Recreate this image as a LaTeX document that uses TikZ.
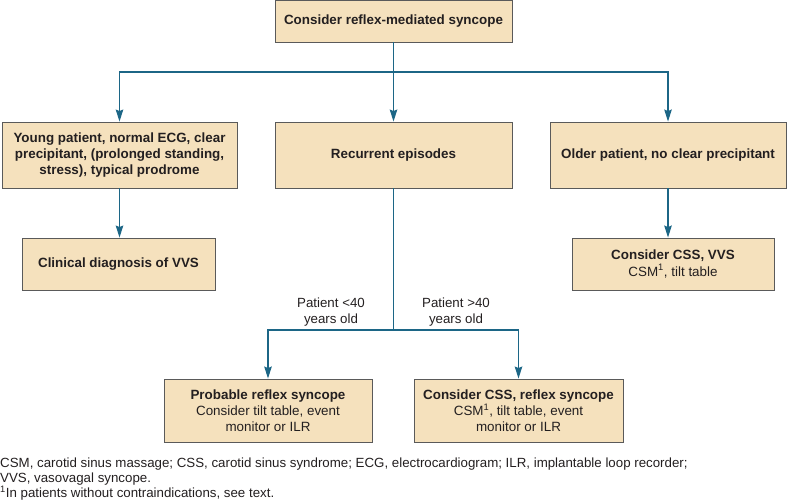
\documentclass[tikz,border=0pt]{standalone}
\usepackage{fontspec}
\setmainfont{Liberation Sans}
\usepackage{tikz}
\usetikzlibrary{arrows.meta}

\definecolor{boxfill}{HTML}{F5E1BD}
\definecolor{boxline}{HTML}{5A5A5A}
\definecolor{flow}{HTML}{1C6686}
\definecolor{ink}{HTML}{231F20}

\tikzset{
  box/.style={draw=boxline, line width=0.9pt, fill=boxfill, inner sep=0pt,
    align=center, text=ink, font=\fontsize{13.4}{16.2}\selectfont\bfseries},
  flowline/.style={draw=flow, line width=1.1pt},
  flowarrow/.style={flowline, -{Stealth[length=12pt,width=7.5pt,inset=1.5pt]}},
  plain/.style={text=ink, align=center, inner sep=0pt, font=\fontsize{13.3}{16}\selectfont},
  foot/.style={text=ink, inner sep=0pt, anchor=base west, font=\fontsize{13.3}{15}\selectfont}
}

\begin{document}
\begin{tikzpicture}[x=1pt,y=-1pt]
        \useasboundingbox (0,0) rectangle (787,502);
        % boxes
        \node[box, minimum width=237, minimum height=42] (start) at (393.5,21) {Consider reflex-mediated syncope};
        \node[box, minimum width=235, minimum height=66] (young) at (119.5,155) {Young patient, normal ECG, clear\\precipitant, (prolonged standing,\\stress), typical prodrome};
        \node[box, minimum width=237, minimum height=66] (recur) at (393.5,155) {Recurrent episodes};
        \node[box, minimum width=236, minimum height=66] (older) at (668,155) {Older patient, no clear precipitant};
        \node[box, minimum width=193, minimum height=52] (vvs) at (118.5,264) {Clinical diagnosis of VVS};
        \node[box, minimum width=202, minimum height=52] (cssvvs) at (673,264) {Consider CSS, VVS\\\mdseries CSM\textsuperscript{1}, tilt table};
        \node[box, minimum width=208, minimum height=63] (reflex) at (268,410.5) {Probable reflex syncope\\\mdseries Consider tilt table, event\\\mdseries monitor or ILR};
        \node[box, minimum width=209, minimum height=63] (cssref) at (518.5,410.5) {Consider CSS, reflex syncope\\\mdseries CSM\textsuperscript{1}, tilt table, event\\\mdseries monitor or ILR};
        % connectors
        \coordinate (fork) at (393.5,72);
        \coordinate (age) at (393.5,330);
        \draw[flowline] (start) -- (fork);
        \draw[flowarrow] (fork) -| (young.north);
        \draw[flowarrow] (fork) -- (recur);
        \draw[flowarrow] (fork) -| (older.north);
        \draw[flowarrow] (young.south) -- (young.south |- vvs.north);
        \draw[flowarrow] (older.south) -- (older.south |- cssvvs.north);
        \draw[flowline] (recur) -- (age);
        \draw[flowarrow] (age) -| (reflex.north);
        \draw[flowarrow] (age) -| (cssref.north);
        % labels
        \node[plain] (young40) at (331,312) {Patient {<}40\\years old};
        \node[plain] (old40) at (456,312) {Patient {>}40\\years old};
        % footnote
        \node[foot] (foot1) at (0,467.5) {CSM, carotid sinus massage; CSS, carotid sinus syndrome; ECG, electrocardiogram; ILR, implantable loop recorder;};
        \node[foot] (foot2) at (0,482.5) {VVS, vasovagal syncope.};
        \node[foot] (foot3) at (0,497.5) {\textsuperscript{1}In patients without contraindications, see text.};
\end{tikzpicture}
\end{document}
